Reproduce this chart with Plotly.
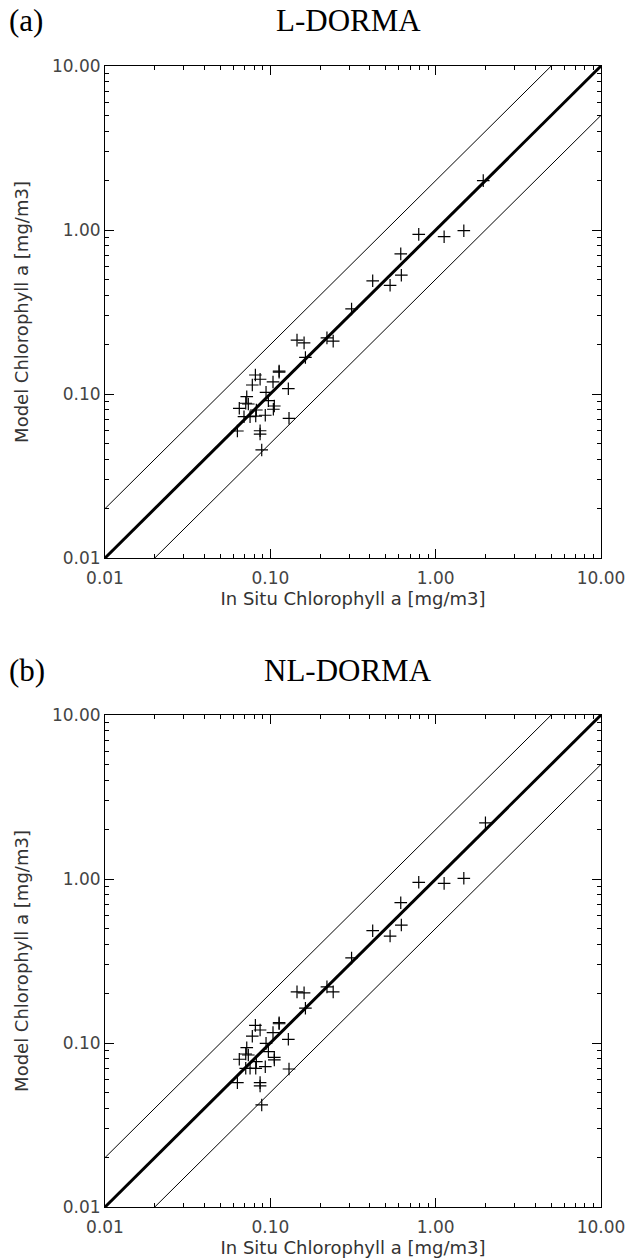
import plotly.graph_objects as go

# Chlorophyll a matchups: in situ vs model, two inversion schemes
lin_insitu = [1.94, 1.48, 1.125, 0.79, 0.615, 0.62, 0.53, 0.416, 0.31, 0.24, 0.22,
              0.16, 0.145, 0.163, 0.0812, 0.0867, 0.113, 0.113, 0.0778, 0.1038, 0.1285,
              0.0942, 0.072, 0.071, 0.0736, 0.0973, 0.1057, 0.1043, 0.0649, 0.0823,
              0.0693, 0.0754, 0.0816, 0.0932, 0.1297, 0.0632, 0.0867, 0.0867, 0.0887]
lin_model = [2.0, 0.99, 0.91, 0.94, 0.715, 0.53, 0.46, 0.49, 0.33, 0.21, 0.22,
             0.205, 0.213, 0.167, 0.1306, 0.123, 0.138, 0.136, 0.1135, 0.1184, 0.1077,
             0.1024, 0.0963, 0.0878, 0.0869, 0.091, 0.0845, 0.0807, 0.0818, 0.0799,
             0.0727, 0.0727, 0.0734, 0.0742, 0.0711, 0.0595, 0.0597, 0.057, 0.0456]

nl_insitu = [2.0, 1.48, 1.125, 0.79, 0.615, 0.62, 0.53, 0.416, 0.31, 0.24, 0.22,
             0.16, 0.145, 0.163, 0.0812, 0.0867, 0.113, 0.113, 0.0778, 0.1038, 0.1285,
             0.0942, 0.072, 0.071, 0.0736, 0.0973, 0.1057, 0.1057, 0.0649, 0.0823,
             0.0710, 0.0754, 0.0816, 0.0932, 0.1297, 0.0632, 0.0867, 0.0867, 0.0887]
nl_model = [2.2, 1.01, 0.94, 0.955, 0.717, 0.524, 0.449, 0.484, 0.33, 0.205, 0.22,
            0.202, 0.205, 0.163, 0.128, 0.120, 0.133, 0.131, 0.110, 0.1156, 0.1053,
            0.0995, 0.0936, 0.0857, 0.0845, 0.0885, 0.0818, 0.0788, 0.0796, 0.0769,
            0.0701, 0.0701, 0.0701, 0.0717, 0.0694, 0.0573, 0.0573, 0.0547, 0.0419]

# reference lines: 1:1 and factor-of-two envelope
one_x = [0.01, 10.0]
one_y = [0.01, 10.0]
upper_x = [0.01, 5.0]
upper_y = [0.02, 10.0]
lower_x = [0.02, 10.0]
lower_y = [0.01, 5.0]

tick_vals = [0.01, 0.1, 1, 10]
tick_text = ["0.01", "0.10", "1.00", "10.00"]
minor_vals = [m * 10 ** e for e in (-2, -1, 0) for m in range(2, 10)]

panels = [
    ("(a)", "L-DORMA", lin_insitu, lin_model),
    ("(b)", "NL-DORMA", nl_insitu, nl_model),
]

W, H = 637, 1259
x_dom = [105 / W, 601 / W]
y_doms = [[1 - 558 / H, 1 - 66 / H], [1 - 1207 / H, 1 - 715 / H]]

fig = go.Figure()
tick_font = dict(family="DejaVu Sans", size=17, color="#444")
title_font = dict(family="DejaVu Sans", size=18, color="#333")

for i, (tag, name, xs, ys) in enumerate(panels):
    ax = "" if i == 0 else str(i + 1)
    xr, yr = "x" + ax, "y" + ax
    for lx, ly, w in ((upper_x, upper_y, 1), (lower_x, lower_y, 1), (one_x, one_y, 3)):
        fig.add_trace(go.Scatter(x=lx, y=ly, mode="lines", xaxis=xr, yaxis=yr,
                                 line=dict(color="black", width=w), showlegend=False))
    fig.add_trace(go.Scatter(x=xs, y=ys, mode="markers", xaxis=xr, yaxis=yr,
                             marker=dict(symbol="cross-thin", size=9,
                                         line=dict(width=1.2, color="black")),
                             showlegend=False))
    common = dict(type="log", range=[-2, 1], showline=True, linecolor="black",
                  linewidth=1, mirror="ticks", ticks="inside", ticklen=9,
                  tickcolor="black", tickvals=tick_vals, ticktext=tick_text,
                  showgrid=False, zeroline=False, tickfont=tick_font,
                  automargin=False,
                  minor=dict(ticks="inside", ticklen=4, tickcolor="black",
                             tickvals=minor_vals, showgrid=False))
    fig.update_layout(**{
        "xaxis" + ax: dict(common, domain=x_dom, anchor=yr, ticklabelstandoff=5,
                           title=dict(text="In Situ Chlorophyll a [mg/m3]", font=title_font,
                                      standoff=2)),
        "yaxis" + ax: dict(common, domain=y_doms[i], anchor=xr,
                           title=dict(text="Model Chlorophyll a [mg/m3]", font=title_font,
                                      standoff=18)),
    })
    top_px = 21 + 649 * i
    fig.add_annotation(text=tag, x=7 / W, y=1 - top_px / H, xref="paper", yref="paper",
                       xanchor="left", yanchor="middle", showarrow=False,
                       font=dict(family="Liberation Serif", size=31, color="black"))
    fig.add_annotation(text=name, x=348 / W, y=1 - top_px / H, xref="paper", yref="paper",
                       xanchor="center", yanchor="middle", showarrow=False,
                       font=dict(family="Liberation Serif", size=31, color="black"))

fig.update_layout(width=W, height=H, margin=dict(l=0, r=0, t=0, b=0, autoexpand=False),
                  paper_bgcolor="white", plot_bgcolor="white")

fig.write_html("out.html")
